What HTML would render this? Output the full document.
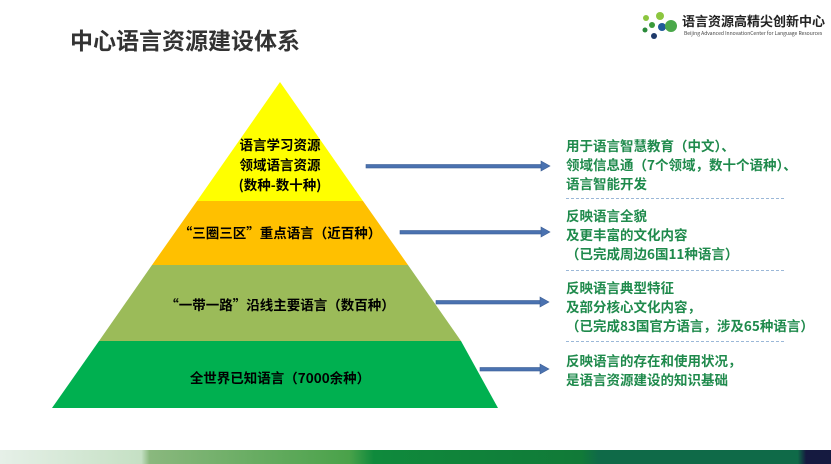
<!DOCTYPE html>
<html><head><meta charset="utf-8"><style>
body{margin:0;width:831px;height:464px;overflow:hidden;background:#fff;font-family:"Noto Sans CJK SC","Liberation Sans",sans-serif;position:relative}
.t{position:absolute;white-space:nowrap;font-weight:bold}
.r{position:absolute;left:566px;color:#1f8a4c;font-size:13.5px;font-weight:bold;line-height:19px;white-space:nowrap}
.d{position:absolute;left:566px;width:218px;border-top:1px dashed #9bb8d8}
</style></head><body>
<div class="t" style="left:70px;top:22px;font-size:23px;color:#333;line-height:34px">中心语言资源建设体系</div>
<svg width="831" height="464" style="position:absolute;left:0;top:0">
<defs><linearGradient id="g" x1="0" x2="1"><stop offset="0" stop-color="#e6f0e8"/><stop offset="0.17" stop-color="#c5e0c4"/><stop offset="0.18" stop-color="#8ab87e"/><stop offset="0.42" stop-color="#4aa24a"/><stop offset="0.45" stop-color="#0f8a3c"/><stop offset="0.7" stop-color="#117a38"/><stop offset="0.72" stop-color="#0f6a48"/><stop offset="0.96" stop-color="#0f6a48"/><stop offset="0.97" stop-color="#151a40"/></linearGradient></defs>
<polygon points="280,82 197,201 363,201" fill="#ffff00"/>
<polygon points="197,201 363,201 408,265 152,265" fill="#ffc000"/>
<polygon points="152,265 408,265 461,341 99,341" fill="#9bbb59"/>
<polygon points="99,341 461,341 498,408 52,408" fill="#00b050"/>
<g fill="#4a72b0" stroke="#3d5f95" stroke-width="0.6">
<rect x="366" y="164.5" width="177" height="3.5"/><polygon points="541,161 550,166 541,171"/>
<rect x="400" y="230.5" width="143" height="3.5"/><polygon points="541,227 550,232 541,237"/>
<rect x="436" y="300.5" width="106" height="3.5"/><polygon points="540,297 549,302 540,307"/>
<rect x="480" y="367.5" width="62" height="3.5"/><polygon points="540,364 549,369 540,374"/>
</g>
<rect x="0" y="450" width="831" height="14" fill="url(#g)"/>
<circle cx="646" cy="18" r="3" fill="#8cc63f"/><circle cx="652" cy="25" r="3" fill="#3a9a3a"/><circle cx="645" cy="30" r="2.5" fill="#2a8a3a"/>
<circle cx="660" cy="16" r="4" fill="#8cc63f"/><circle cx="662" cy="27" r="4" fill="#1f5a9a"/><circle cx="654" cy="36" r="3" fill="#1f3a6a"/>
<circle cx="671" cy="26" r="6" fill="#4aa84a"/>
</svg>
<div class="t" style="left:682px;top:12px;font-size:13px;color:#222;line-height:18px">语言资源高精尖创新中心</div>
<div class="t" style="left:684px;top:31px;font-size:5px;color:#444;font-weight:normal;line-height:6px">Beijing Advanced InnovationCenter for Language Resources</div>
<div class="t" style="left:200px;top:134px;width:160px;text-align:center;font-size:13.5px;line-height:20px">语言学习资源<br>领域语言资源<br>(数种-数十种)</div>
<div class="t" style="left:150px;top:222px;width:260px;text-align:center;font-size:13.5px;line-height:20px">“三圈三区”重点语言（近百种）</div>
<div class="t" style="left:120px;top:294px;width:320px;text-align:center;font-size:13.5px;line-height:20px">“一带一路”沿线主要语言（数百种）</div>
<div class="t" style="left:100px;top:367px;width:360px;text-align:center;font-size:13.5px;line-height:20px">全世界已知语言（7000余种）</div>
<div class="r" style="top:136px">用于语言智慧教育（中文）、<br>领域信息通（7个领域，数十个语种）、<br>语言智能开发</div>
<div class="d" style="top:198px"></div>
<div class="r" style="top:206px">反映语言全貌<br>及更丰富的文化内容<br>（已完成周边6国11种语言）</div>
<div class="d" style="top:270px"></div>
<div class="r" style="top:278px">反映语言典型特征<br>及部分核心文化内容，<br>（已完成83国官方语言，涉及65种语言）</div>
<div class="d" style="top:341px"></div>
<div class="r" style="top:351px">反映语言的存在和使用状况，<br>是语言资源建设的知识基础</div>
</body></html>
